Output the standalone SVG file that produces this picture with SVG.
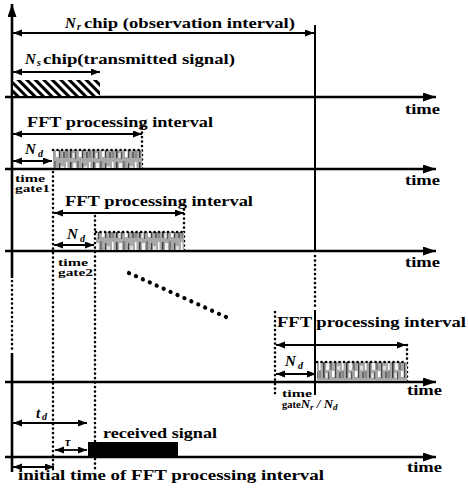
<svg xmlns="http://www.w3.org/2000/svg" width="468" height="488" viewBox="0 0 468 488">
<style>
text{font-family:"Liberation Serif","Times New Roman",serif;font-weight:bold;fill:#000}
.lbl{font-size:15px}
.tm{font-size:15px}
.sm{font-size:10.5px}
.sub{font-size:10px}
.it{font-style:italic}
.ax{stroke:#000;stroke-width:2.6;fill:none}
.ar{stroke:#000;stroke-width:1.8;fill:none}
.dot{stroke:#000;stroke-width:2.6;fill:none;stroke-linecap:round;stroke-dasharray:0.1 4.4}
.sol{stroke:#000;stroke-width:2;fill:none}
</style>
<defs>
<marker id="ah" markerUnits="userSpaceOnUse" markerWidth="10" markerHeight="8" refX="9" refY="3.5" orient="auto-start-reverse"><path d="M0,0 L9,3.5 L0,7 z" fill="#000"/></marker>
<marker id="axh" markerUnits="userSpaceOnUse" markerWidth="14" markerHeight="10" refX="13" refY="4.5" orient="auto"><path d="M0,0 L13,4.5 L0,9 z" fill="#000"/></marker>
<pattern id="hatch" width="6" height="6" patternUnits="userSpaceOnUse" patternTransform="rotate(45)"><rect width="6" height="6" fill="#fff"/><rect x="0" y="0" width="6" height="3" fill="#000"/></pattern>
<pattern id="noise" width="23" height="20" patternUnits="userSpaceOnUse">
<rect width="23" height="20" fill="#a8a8a8"/>
<rect x="1" y="2" width="1.5" height="16" fill="#3a3a3a"/>
<rect x="4" y="3" width="3" height="7" fill="#f0f0f0"/>
<rect x="6" y="12" width="1.2" height="7" fill="#555"/>
<rect x="8" y="1" width="2" height="9" fill="#777"/>
<rect x="3.5" y="13" width="2" height="5" fill="#e8e8e8"/>
<rect x="10" y="11" width="2.5" height="6" fill="#fff"/>
<rect x="13" y="3" width="1.2" height="15" fill="#444"/>
<rect x="15" y="6" width="3" height="4" fill="#ddd"/>
<rect x="17" y="12" width="2" height="6" fill="#666"/>
<rect x="20" y="2" width="1.5" height="8" fill="#fff"/>
<rect x="19.5" y="11" width="2.5" height="7" fill="#888"/>
</pattern>
</defs>

<g id="axes">
<path class="ax" d="M12,472 V353" />
<path class="ax" d="M12,278 V4" marker-end="url(#axh)"/>
<path class="dot" d="M12,281 V350"/>
<path class="ax" d="M5,97 H436" marker-end="url(#axh)"/>
<path class="ax" d="M5,169 H436" marker-end="url(#axh)"/>
<path class="ax" d="M5,251 H436" marker-end="url(#axh)"/>
<path class="ax" d="M5,382 H436" marker-end="url(#axh)"/>
<path class="ax" d="M5,457 H436" marker-end="url(#axh)"/>
<text class="tm" x="405" y="114" textLength="35" lengthAdjust="spacingAndGlyphs">time</text>
<text class="tm" x="405" y="185" textLength="35" lengthAdjust="spacingAndGlyphs">time</text>
<text class="tm" x="405" y="267" textLength="35" lengthAdjust="spacingAndGlyphs">time</text>
<text class="tm" x="407" y="395" textLength="35" lengthAdjust="spacingAndGlyphs">time</text>
<text class="tm" x="407" y="472" textLength="35" lengthAdjust="spacingAndGlyphs">time</text>
</g>

<g id="connectors">
<path class="sol" d="M315,25 V252"/>
<path class="dot" d="M315,256 V308"/>
<path class="sol" d="M315,310 V395"/>
<path class="dot" d="M53,172 V472"/>
<path class="dot" d="M95,216 V472"/>
<path class="dot" d="M142,128 V169"/>
<path class="dot" d="M184,205 V251"/>
<path class="dot" d="M275,312 V396"/>
<path class="dot" d="M407,345 V382"/>
<path d="M129,273 L226,317" stroke="#000" stroke-width="4.2" stroke-linecap="round" stroke-dasharray="0.1 7.5" fill="none"/>
<path class="ar" d="M13,33 H314" marker-start="url(#ah)" marker-end="url(#ah)"/>
<path class="ar" d="M13,72 H100" marker-start="url(#ah)" marker-end="url(#ah)"/>
<path class="ar" d="M13,134 H142" marker-start="url(#ah)" marker-end="url(#ah)"/>
<path class="ar" d="M13,161 H52" marker-start="url(#ah)" marker-end="url(#ah)"/>
<path class="ar" d="M54,213 H184" marker-start="url(#ah)" marker-end="url(#ah)"/>
<path class="ar" d="M54,245 H94" marker-start="url(#ah)" marker-end="url(#ah)"/>
<path class="ar" d="M276,345 H406" marker-start="url(#ah)" marker-end="url(#ah)"/>
<path class="ar" d="M276,374 H316" marker-start="url(#ah)" marker-end="url(#ah)"/>
<path class="ar" d="M13,423 H87" marker-start="url(#ah)" marker-end="url(#ah)"/>
<path class="ar" d="M55,450 H87" marker-start="url(#ah)" marker-end="url(#ah)"/>
<path class="ar" d="M13,467 H54" marker-start="url(#ah)" marker-end="url(#ah)"/>
</g>

<g id="observation">
<text class="lbl it" x="65" y="28">N</text>
<text class="sub it" x="77" y="30">r</text>
<text class="lbl" x="84" y="28" textLength="211" lengthAdjust="spacingAndGlyphs">chip (observation interval)</text>
</g>

<g id="transmitted">
<rect x="13" y="80" width="87" height="16" fill="url(#hatch)"/>
<text class="lbl it" x="25" y="64">N</text>
<text class="sub it" x="37" y="66">s</text>
<text class="lbl" x="43" y="64" textLength="192" lengthAdjust="spacingAndGlyphs">chip(transmitted signal)</text>
</g>

<g id="fft1">
<text class="lbl" x="27" y="127" textLength="186" lengthAdjust="spacingAndGlyphs">FFT processing interval</text>
<text class="lbl it" x="25" y="154">N</text>
<text class="sub it" x="38" y="157">d</text>
<rect x="53" y="150" width="89" height="18" fill="url(#noise)"/>
<path class="dot" d="M53,150 H142" stroke-width="1.4" stroke-dasharray="0.1 2.5"/>
<text class="sm" x="15" y="182" textLength="30" lengthAdjust="spacingAndGlyphs">time</text>
<text class="sm" x="15" y="192" textLength="35" lengthAdjust="spacingAndGlyphs">gate1</text>
</g>

<g id="fft2">
<text class="lbl" x="65" y="206" textLength="188" lengthAdjust="spacingAndGlyphs">FFT processing interval</text>
<text class="lbl it" x="67" y="239">N</text>
<text class="sub it" x="80" y="242">d</text>
<rect x="96" y="232" width="88" height="18" fill="url(#noise)"/>
<path class="dot" d="M96,232 H184" stroke-width="1.4" stroke-dasharray="0.1 2.5"/>
<text class="sm" x="58" y="266" textLength="30" lengthAdjust="spacingAndGlyphs">time</text>
<text class="sm" x="58" y="276" textLength="35" lengthAdjust="spacingAndGlyphs">gate2</text>
</g>

<g id="fft3">
<text class="lbl" x="277" y="327" textLength="189" lengthAdjust="spacingAndGlyphs">FFT processing interval</text>
<text class="lbl it" x="285" y="366">N</text>
<text class="sub it" x="298" y="369">d</text>
<rect x="317" y="362" width="90" height="19" fill="url(#noise)"/>
<path class="dot" d="M317,362 H407" stroke-width="1.4" stroke-dasharray="0.1 2.5"/>
<text class="sm" x="282" y="397" textLength="30" lengthAdjust="spacingAndGlyphs">time</text>
<text class="sm" x="282" y="408">gate<tspan class="it" font-size="13">N</tspan><tspan class="it" font-size="9" dy="2">r</tspan><tspan class="it" font-size="13" dy="-2"> / N</tspan><tspan class="it" font-size="9" dy="2">d</tspan></text>
</g>

<g id="received">
<rect x="88" y="442" width="90" height="15" fill="#000"/>
<text class="lbl" x="103" y="438" textLength="114" lengthAdjust="spacingAndGlyphs">received signal</text>
<text class="lbl it" x="36" y="418">t</text>
<text class="sub it" x="42" y="420">d</text>
<text class="it" font-size="12" x="65" y="446">τ</text>
<text class="lbl" x="18" y="480" textLength="306" lengthAdjust="spacingAndGlyphs">initial time of FFT processing interval</text>
</g>
</svg>
